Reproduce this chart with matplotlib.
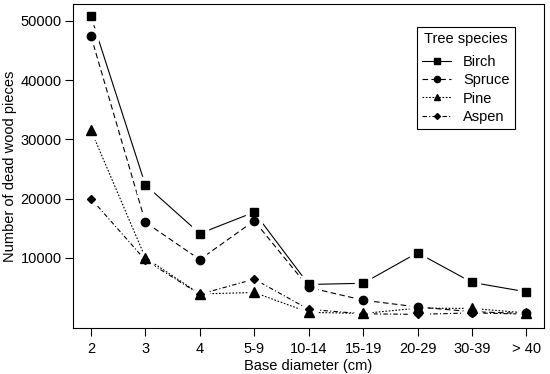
import matplotlib.pyplot as plt

plt.rcParams['font.family'] = ['Liberation Sans', 'DejaVu Sans']

diameters = ['2', '3', '4', '5-9', '10-14', '15-19', '20-29', '30-39', '> 40']
birch = [50800, 22300, 14100, 17700, 5500, 5700, 10850, 5850, 4250]
spruce = [47450, 16000, 9700, 16250, 5000, 2850, 1700, 900, 600]
pine = [31550, 10000, 3900, 4150, 800, 600, 1500, 1450, 700]
aspen = [20000, 9600, 3850, 6400, 1300, 550, 450, 700, 500]

species = ['Birch', 'Spruce', 'Pine', 'Aspen']
series = [birch, spruce, pine, aspen]
markers = ['s', 'o', '^', 'D']
sizes = [6, 6, 6.5, 4]
styles = ['-', (0, (5, 3)), (0, (1.5, 1.5)), (0, (4, 2, 1, 2))]

fig = plt.figure(figsize=(5.5, 3.74), dpi=100)
ax = fig.add_axes([0.1327, 0.1222, 0.856, 0.8671])

x = list(range(len(diameters)))
for name, vals, m, ms, ls in zip(species, series, markers, sizes, styles):
    ax.plot(x, vals, color='black', lw=0.8, ls=ls, zorder=2)
    # white halo so lines stop short of the points, like R type="b"
    ax.plot(x, vals, ls='none', marker=m, ms=ms + 6, color='white', zorder=3)
    ax.plot(x, vals, ls='none', marker=m, ms=ms, color='black', zorder=4)
    ax.plot([], [], color='black', lw=0.8, ls=ls, marker=m, ms=ms * 0.75, label=name)

ax.set_xlim(-0.33, 8.32)
ax.set_ylim(-1900, 52850)
ax.set_xticks(x)
ax.set_xticklabels(diameters)
ax.set_yticks([10000, 20000, 30000, 40000, 50000])
ax.tick_params(labelsize=10.5, length=6, width=0.8, direction='out', pad=2)
ax.tick_params(axis='x', pad=4)
for s in ax.spines.values():
    s.set_linewidth(0.8)

ax.set_xlabel('Base diameter (cm)', fontsize=10.5, labelpad=2)
ax.set_ylabel('Number of dead wood pieces', fontsize=10.5, labelpad=3)

leg = ax.legend(title='Tree species', loc='upper left', bbox_to_anchor=(0.731, 0.928),
                fontsize=10.5, title_fontsize=10.5, fancybox=False, edgecolor='black',
                framealpha=1, handlelength=2.0, labelspacing=0.3, borderpad=0.35,
                handletextpad=0.8, borderaxespad=0)
leg.get_frame().set_linewidth(0.8)
leg._legend_box.sep = 6

fig.savefig('out.png', dpi=100)
